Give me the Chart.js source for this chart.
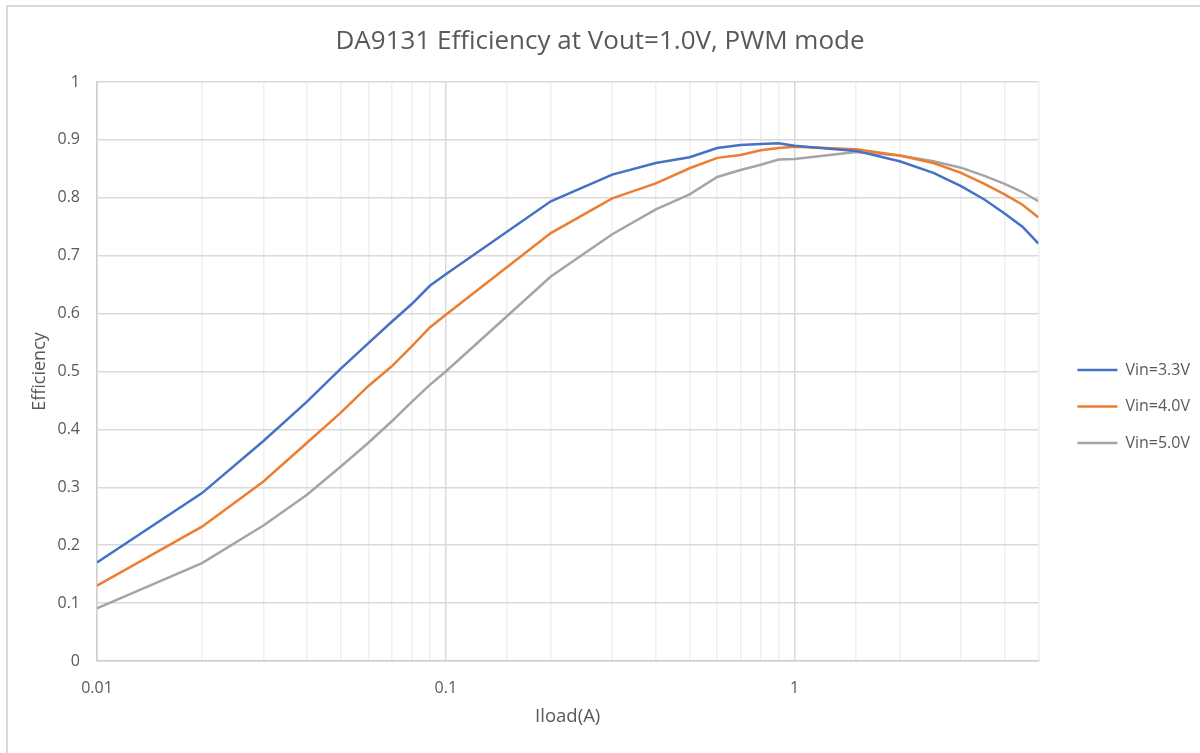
<!DOCTYPE html>
<html>
<head>
<meta charset="utf-8">
<title>DA9131 Efficiency</title>
<script src="https://cdn.jsdelivr.net/npm/chart.js@4.4.1/dist/chart.umd.min.js"></script>
<style>
  html, body { margin: 0; padding: 0; background: #fff; overflow: hidden; }
  #wrap { position: relative; width: 1200px; height: 753px; }
  #frame {
    position: absolute; left: 6px; top: 5px; width: 1300px; height: 900px;
    border-left: 2px solid #d9d9d9; border-top: 2px solid #d9d9d9;
    pointer-events: none;
  }
</style>
</head>
<body>
<div id="wrap">
  <canvas id="effChart" width="1200" height="753"></canvas>
  <div id="frame"></div>
</div>
<script>
// load current in A
const loads = [0.01, 0.02, 0.03, 0.04, 0.05, 0.06, 0.07, 0.08, 0.09,
  0.1, 0.2, 0.3, 0.4, 0.5, 0.6, 0.7, 0.8, 0.9,
  1, 1.5, 2, 2.5, 3, 3.5, 4, 4.5, 5];

const vin33 = [0.170, 0.290, 0.380, 0.448, 0.505, 0.549, 0.586, 0.617, 0.648,
  0.668, 0.794, 0.840, 0.860, 0.870, 0.886, 0.891, 0.893, 0.894,
  0.890, 0.881, 0.863, 0.843, 0.820, 0.797, 0.773, 0.750, 0.721];

const vin40 = [0.130, 0.232, 0.310, 0.377, 0.429, 0.475, 0.509, 0.544, 0.576,
  0.598, 0.739, 0.799, 0.825, 0.851, 0.869, 0.874, 0.882, 0.886,
  0.888, 0.884, 0.873, 0.860, 0.843, 0.824, 0.806, 0.788, 0.766];

const vin50 = [0.091, 0.169, 0.234, 0.287, 0.336, 0.377, 0.414, 0.448, 0.477,
  0.500, 0.664, 0.737, 0.780, 0.806, 0.836, 0.848, 0.857, 0.866,
  0.867, 0.879, 0.873, 0.863, 0.852, 0.838, 0.824, 0.810, 0.794];

const seriesNames = ["Vin=3.3V", "Vin=4.0V", "Vin=5.0V"];
const seriesColors = ["#4472C4", "#ED7D31", "#A5A5A5"];
const xTickLabels = ["0.01", "0.1", "1"];

const FONT = "'Open Sans', 'Liberation Sans', sans-serif";
const TEXT = "#595959";

function pts(ys) {
  return loads.map((x, i) => ({ x: x, y: ys[i] }));
}

const ctx = document.getElementById("effChart").getContext("2d");
const chart = new Chart(ctx, {
  type: "line",
  data: {
    datasets: [vin33, vin40, vin50].map((ys, i) => ({
      label: seriesNames[i],
      data: pts(ys),
      borderColor: seriesColors[i],
      backgroundColor: seriesColors[i],
      borderWidth: 2.5,
      pointRadius: 0,
      tension: 0,
      fill: false,
    })),
  },
  options: {
    responsive: false,
    animation: false,
    events: [],
    layout: { padding: 0 },
    plugins: {
      title: {
        display: true,
        text: "DA9131 Efficiency at Vout=1.0V, PWM mode",
        color: TEXT,
        font: { family: FONT, size: 26, weight: "normal", lineHeight: 1.2 },
        padding: { top: 26.4, bottom: 24.4 },
      },
      legend: {
        position: "right",
        align: "center",
        maxWidth: 143.5,
        title: { display: true, text: "", font: { size: 12 }, padding: { top: 45.6, bottom: 0 } },
        labels: {
          usePointStyle: true,
          pointStyle: "line",
          pointStyleWidth: 40,
          padding: 20.5,
          color: TEXT,
          font: { family: FONT, size: 16 },
        },
      },
      tooltip: { enabled: false },
    },
    scales: {
      x: {
        type: "logarithmic",
        position: "bottom",
        min: 0.01,
        max: 5,
        afterFit: (s) => { s.height = 92; },
        grid: {
          drawTicks: false,
          color: (c) => {
            const v = c.tick ? c.tick.value : 0;
            const lg = Math.log10(v);
            return Math.abs(lg - Math.round(lg)) < 1e-6 ? "#d9d9d9" : "#efefef";
          },
          lineWidth: 1.5,
        },
        border: { color: "#d0d0d0", width: 1.5 },
        ticks: {
          autoSkip: false,
          maxRotation: 0,
          padding: 18,
          color: TEXT,
          font: { family: FONT, size: 16 },
          callback: (v) => {
            const s = String(Number(v.toPrecision(3)));
            return xTickLabels.includes(s) ? s : "";
          },
        },
        title: {
          display: true,
          text: "Iload(A)",
          color: TEXT,
          font: { family: FONT, size: 18.5, lineHeight: 1.2 },
          padding: { top: 0, bottom: 24.9 },
        },
      },
      y: {
        position: "left",
        min: 0,
        max: 1,
        afterFit: (s) => { s.width = 97; },
        grid: { drawTicks: false, color: "#d9d9d9", lineWidth: 1.5 },
        border: { color: "#d0d0d0", width: 1.5 },
        ticks: {
          stepSize: 0.1,
          padding: 17,
          color: TEXT,
          font: { family: FONT, size: 16 },
          callback: (v) => String(Number(v.toFixed(1))),
        },
        title: {
          display: true,
          text: "Efficiency",
          color: TEXT,
          font: { family: FONT, size: 18, lineHeight: 1.2 },
          padding: { top: 29.2, bottom: 0 },
        },
      },
      // spacer between plot area and legend
      gap: {
        position: "right",
        display: true,
        afterFit: (s) => { s.width = 18.5; },
        grid: { display: false },
        border: { display: false },
        ticks: { display: false },
      },
    },
  },
});
</script>
</body>
</html>
